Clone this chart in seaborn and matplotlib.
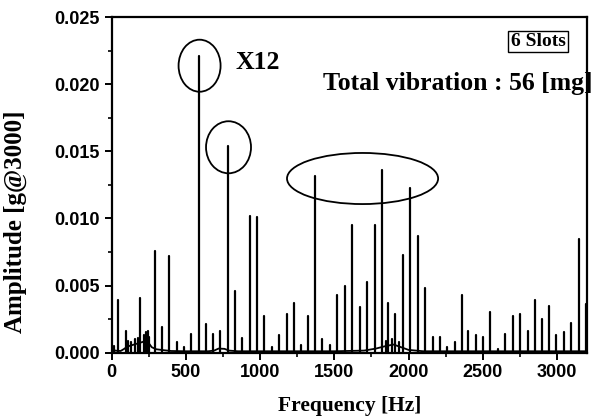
import numpy as np
import pandas as pd
import matplotlib
matplotlib.use("Agg")
import matplotlib.pyplot as plt
from matplotlib.patches import Ellipse
import seaborn as sns

# ---- data ----
peak_freq = [13, 44, 94, 110, 130, 160, 175, 191, 215, 228, 243, 253, 292, 339, 389,
             440, 487, 535, 588, 636, 685, 732, 784, 831, 880, 932, 979, 1026, 1078,
             1128, 1179, 1226, 1276, 1325, 1370, 1417, 1469, 1519, 1570, 1620, 1670,
             1721, 1771, 1820, 1845, 1863, 1885, 1910, 1935, 1962, 2009, 2063, 2112,
             2164, 2211, 2261, 2312, 2359, 2402, 2454, 2503, 2550, 2602, 2651, 2703,
             2752, 2802, 2851, 2896, 2946, 2995, 3044, 3094, 3145, 3194]
peak_amp = [0.0005, 0.0039, 0.0016, 0.0009, 0.0008, 0.0010, 0.0011, 0.0041, 0.0013,
            0.0015, 0.0016, 0.0012, 0.0076, 0.0019, 0.0072, 0.0008, 0.0004, 0.0014,
            0.0221, 0.0021, 0.0014, 0.0016, 0.0154, 0.0046, 0.0011, 0.0102, 0.0101,
            0.0027, 0.0004, 0.0013, 0.0029, 0.0037, 0.0006, 0.0027, 0.0132, 0.0010,
            0.0006, 0.0043, 0.0050, 0.0095, 0.0034, 0.0053, 0.0095, 0.0136, 0.0009,
            0.0037, 0.0010, 0.0029, 0.0008, 0.0073, 0.0123, 0.0087, 0.0048, 0.0012,
            0.0012, 0.0004, 0.0008, 0.0043, 0.0016, 0.0013, 0.0012, 0.0030, 0.0003,
            0.0014, 0.0027, 0.0029, 0.0016, 0.0039, 0.0025, 0.0035, 0.0013, 0.0015,
            0.0022, 0.0085, 0.0036]

base_freq = [0, 10, 20, 60, 80, 100, 120, 150, 180, 210, 230, 250, 270, 300, 350, 400,
             500, 650, 690, 720, 760, 790, 850, 1500, 1700, 1780, 1850, 1900, 1950,
             2000, 2100, 3200]
base_amp = [0.0002, 0.0004, 0.00015, 0.00012, 0.00025, 0.0004, 0.0005, 0.0006, 0.0007,
            0.0008, 0.0009, 0.0007, 0.0004, 0.00025, 0.00018, 0.00012, 0.0001, 0.0001,
            0.00015, 0.0003, 0.00028, 0.00015, 0.0001, 0.0001, 0.00015, 0.0003, 0.0005,
            0.0006, 0.0004, 0.0002, 0.0001, 0.0001]

x_ticks = [0, 500, 1000, 1500, 2000, 2500, 3000]
y_ticks = [0.000, 0.005, 0.010, 0.015, 0.020, 0.025]

# ---- build long-form table: each peak a vertical spike ----
rows = []
for i, (f, a) in enumerate(zip(peak_freq, peak_amp)):
    rows.append({"freq": f, "amp": 0.0, "uid": i})
    rows.append({"freq": f, "amp": a, "uid": i})
spikes = pd.DataFrame(rows)
base = pd.DataFrame({"freq": base_freq, "amp": base_amp})

sns.set_style("ticks")
plt.rcParams["font.family"] = ["Liberation Sans", "DejaVu Sans"]
plt.rcParams.update({"text.color": "black", "axes.labelcolor": "black",
                     "xtick.color": "black", "ytick.color": "black",
                     "axes.edgecolor": "black"})

fig = plt.figure(figsize=(6.04, 4.18), dpi=100)
ax = fig.add_axes([111.7 / 604, 1 - 352.6 / 418, 475 / 604, 335.3 / 418])

sns.lineplot(data=base, x="freq", y="amp", ax=ax, color="black", lw=1.3,
             estimator=None, sort=True)
sns.lineplot(data=spikes, x="freq", y="amp", units="uid", estimator=None, ax=ax,
             color="black", lw=1.6)

ax.set_xlim(0, 3200)
ax.set_ylim(0, 0.025)
ax.set_xticks(x_ticks)
ax.set_yticks(y_ticks)
ax.set_xticks(np.arange(250, 3200, 500), minor=True)
ax.set_yticks(np.arange(0.0025, 0.025, 0.005), minor=True)
ax.set_xticklabels([str(t) for t in x_ticks])
ax.set_yticklabels([f"{t:.3f}" for t in y_ticks])
ax.tick_params(axis="both", which="major", direction="out", length=5, width=1.4,
               labelsize=13, pad=3.5, color="black", labelcolor="black")
ax.tick_params(axis="both", which="minor", direction="out", length=3, width=1.2,
               color="black")
for lab in ax.get_xticklabels() + ax.get_yticklabels():
    lab.set_fontweight("bold")
for sp in ax.spines.values():
    sp.set_visible(True)
    sp.set_linewidth(1.6)
    sp.set_color("black")

serif = ["Liberation Serif", "DejaVu Serif"]
ax.set_xlabel("Frequency [Hz]", family=serif, fontweight="bold", fontsize=15.5,
              color="black")
ax.set_ylabel("Amplitude [g@3000]", family=serif, fontweight="bold", fontsize=18,
              color="black")
ax.xaxis.set_label_coords(0.5, -0.13)
ax.yaxis.set_label_coords(-0.178, 0.39)

# annotations
ax.text(0.2596, 0.8458, "X12", transform=ax.transAxes, family=serif,
        fontweight="bold", fontsize=18.5, va="baseline", ha="left", color="black")
ax.text(0.4448, 0.7832, "Total vibration : 56 [mg]", transform=ax.transAxes,
        family=serif, fontweight="bold", fontsize=18.5, va="baseline", ha="left",
        clip_on=False, color="black")
ax.text(0.8975, 0.9278, "6 Slots", transform=ax.transAxes, family=serif,
        fontweight="bold", fontsize=14, va="center", ha="center", color="black",
        bbox=dict(boxstyle="square,pad=0.12", fc="white", ec="black", lw=1.0))

for (cx, cy, w, h) in [(592, 0.02139, 283, 0.00388),
                       (787, 0.01531, 303, 0.00388),
                       (1690, 0.01298, 1018, 0.00381)]:
    ax.add_patch(Ellipse((cx, cy), w, h, fill=False, ec="black", lw=1.3))

fig.savefig("out.png", dpi=100, facecolor="white")
